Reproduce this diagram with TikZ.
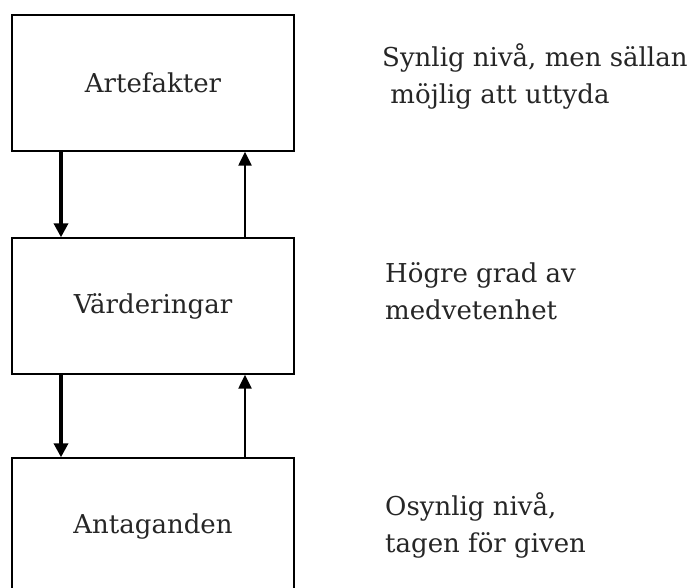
\documentclass[tikz,border=0pt]{standalone}
\usepackage{fontspec}
\setmainfont{DejaVu Serif}
\usetikzlibrary{arrows.meta}
\begin{document}
\begin{tikzpicture}[x=1pt,y=-1pt,
  level/.style={draw=black, line width=1.4pt, minimum width=282pt, minimum height=136pt,
    inner sep=0pt, font=\fontsize{26}{30}\selectfont, text=black!85},
  note/.style={anchor=north west, align=left, inner sep=0pt,
    font=\fontsize{26}{37}\selectfont, text=black!85},
  down/.style={line width=3.8pt, -{Triangle[width=14pt,length=14pt]}},
  up/.style={line width=2.4pt, -{Triangle[width=13pt,length=14pt]}}]
  \useasboundingbox (0,0) rectangle (692,587);
  \clip (0,0) rectangle (692,587);
  \fill[white] (0,0) rectangle (692,587);

  % the three levels
  \node[level] (art) at (153,83) {Artefakter};
  \node[level] (var) at (153,306) {Värderingar};
  \node[level] (ant) at (153,526) {Antaganden};

  % columns of the arrows
  \coordinate (dx) at (61,0);
  \coordinate (ux) at (245,0);

  \draw[down] (art.south -| dx) -- (var.north -| dx);
  \draw[up] (var.north -| ux) -- (art.south -| ux);
  \draw[down] (var.south -| dx) -- (ant.north -| dx);
  \draw[up] (ant.north -| ux) -- (var.south -| ux);

  % descriptions beside each level
  \node[note] (n1) at (382,43) {Synlig nivå, men sällan\\\ möjlig att uttyda};
  \node[note] (n2) at (385,262) {Högre grad av\\medvetenhet};
  \node[note] (n3) at (385,492) {Osynlig nivå,\\tagen för given};
\end{tikzpicture}
\end{document}
